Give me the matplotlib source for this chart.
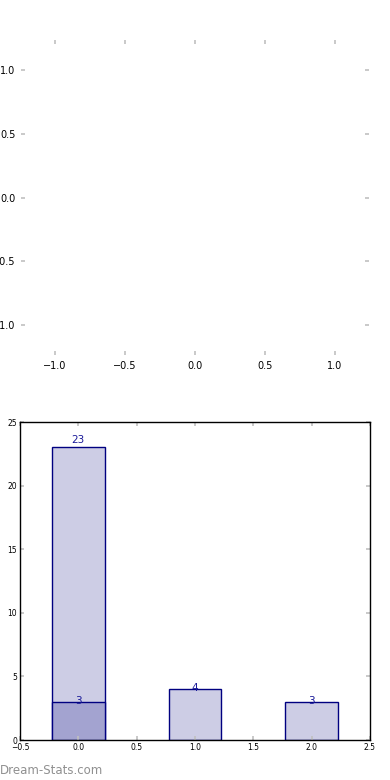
import matplotlib
matplotlib.use("Agg")
import matplotlib.pyplot as plt
import numpy as np

# bar chart data
positions = [0, 1, 2]
counts = [23, 4, 3]
highlight_pos = [0]
highlight_counts = [3]

top_ticks = [-1.0, -0.5, 0.0, 0.5, 1.0]
bottom_xticks = [-0.5, 0.0, 0.5, 1.0, 1.5, 2.0, 2.5]
bottom_yticks = [0, 5, 10, 15, 20, 25]

fig = plt.figure(figsize=(3.9, 7.8), dpi=100)

# top: empty axes, only ticks shown
ax1 = fig.add_axes([21 / 390, 1 - 355 / 780, 348 / 390, 315 / 780])
ax1.set_xlim(-1.243, 1.243)
ax1.set_ylim(-1.234, 1.234)
ax1.set_xticks(top_ticks)
ax1.set_yticks(top_ticks)
for s in ax1.spines.values():
    s.set_visible(False)
ax1.tick_params(axis="both", which="both", direction="in", length=3, width=1.2,
                color="#c0c0c0", labelsize=7, pad=4,
                top=True, right=True, labeltop=False, labelright=False)

# bottom: bar chart
ax2 = fig.add_axes([20 / 390, 1 - 740 / 780, 350 / 390, 318 / 780])
light = "#cdcde5"
dark = "#a3a3d0"
edge = "#000080"
ax2.bar(positions, counts, width=0.45, color=light, edgecolor=edge, linewidth=1)
ax2.bar(highlight_pos, highlight_counts, width=0.45, color=dark, edgecolor=edge, linewidth=1)
for x, c in zip(positions, counts):
    ax2.text(x, c * 1.025, str(c), ha="center", va="center", fontsize=7.5, color="#1a1a99")
for x, c in zip(highlight_pos, highlight_counts):
    ax2.text(x, c * 1.025, str(c), ha="center", va="center", fontsize=7.5, color="#1a1a99")
ax2.set_xlim(-0.5, 2.5)
ax2.set_ylim(0, 25)
ax2.set_xticks(bottom_xticks)
ax2.set_yticks(bottom_yticks)
for s in ax2.spines.values():
    s.set_linewidth(1)
ax2.tick_params(axis="both", direction="in", length=3, width=1.2, color="#c0c0c0",
                labelsize=5.5, pad=2, top=True, right=True)

fig.text(0.0, 1 - 771 / 780, "Dream-Stats.com", fontsize=8.5, color="#909090",
         ha="left", va="center")

fig.savefig("out.png", dpi=100)
